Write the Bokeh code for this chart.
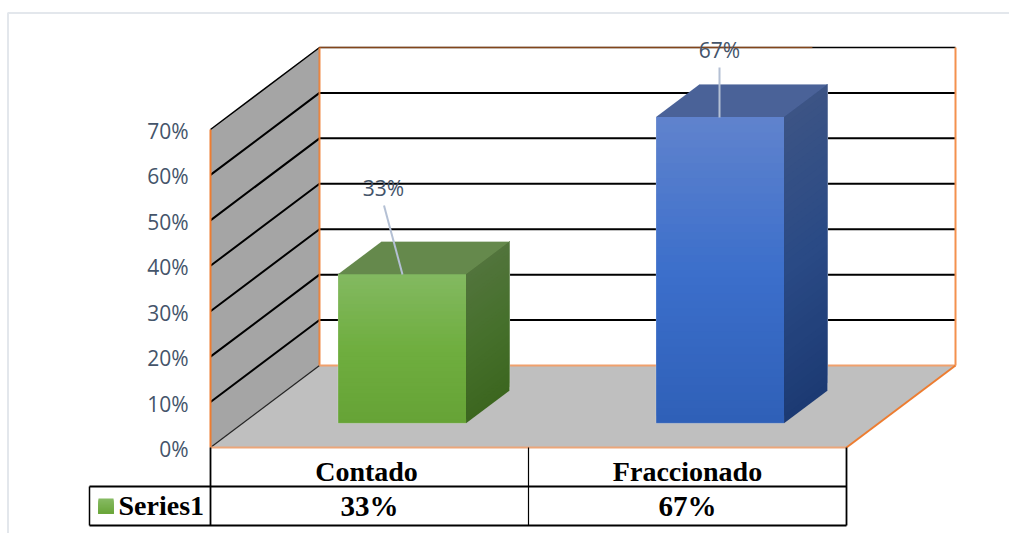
from bokeh.plotting import figure
from bokeh.models import LinearAxis, FixedTicker, PrintfTickFormatter, Range1d, ColumnDataSource
from bokeh.core.properties import value
from bokeh.embed import file_html
from bokeh.resources import INLINE

categories = ["Contado", "Fraccionado"]
values = [32.8, 67.4]
value_labels = ["33%", "67%"]
series_name = "Series1"
ticks = [0, 10, 20, 30, 40, 50, 60, 70]

front_colors = [("#83b961", "#6fae3f", "#66a336"), ("#6083cd", "#3c6fcb", "#2f60b8")]
side_colors = [("#52743c", "#46702c", "#3c661f"), ("#3c5485", "#2a4a85", "#1c3a73")]
top_colors = ["#65894c", "#4a6298"]

W, H = 1009, 533
PX_X0, PX_CAT = 210.0, 318.0      # pixel of category origin and per category
PX_Y0, PX_PCT = 447.0, 4.543      # pixel of 0% and per percent
DX, DY = 109 / PX_CAT, 82 / PX_PCT  # oblique depth vector
NCAT = len(categories)
TOP = ticks[-1]

def X(px): return (px - PX_X0) / PX_CAT
def Y(py): return (PX_Y0 - py) / PX_PCT
def P(cat, val, d=0.0): return cat + d * DX, val + d * DY

p = figure(width=W, height=H, output_backend="svg", toolbar_location=None,
           x_axis_type=None, y_axis_type=None, min_border=0,
           x_range=Range1d(X(0), X(W)), y_range=Range1d(Y(H), Y(0)),
           outline_line_color=None, background_fill_color="white", border_fill_color="white")
p.grid.visible = False
# the value labels sit 1.5px below their gridline level in the reference
p.extra_y_ranges["labels"] = Range1d(Y(H - 1.5), Y(-1.5))

def poly(pts, fill, line=None, lw=1, alpha=1.0):
    p.patch([a for a, _ in pts], [b for _, b in pts], fill_color=fill,
            line_color=line, line_width=lw, line_alpha=alpha)

def seg(pts, color, lw, alpha=1.0):
    p.line([a for a, _ in pts], [b for _, b in pts], line_color=color, line_width=lw, line_alpha=alpha)

def mix2(c0, c1, t):
    a = [int(c0[i:i + 2], 16) for i in (1, 3, 5)]
    b = [int(c1[i:i + 2], 16) for i in (1, 3, 5)]
    return "#%02x%02x%02x" % tuple(round(u + (v - u) * t) for u, v in zip(a, b))

def ramp(stops, t):
    # t: 0 at the bar top, 1 at its bottom; the middle stop is at t = 0.5
    return mix2(stops[0], stops[1], t * 2) if t < 0.5 else mix2(stops[1], stops[2], t * 2 - 1)

# card edge
seg([(X(7.5), Y(533)), (X(7.5), Y(12.5)), (X(1009), Y(12.5))], "#e3e7ec", 2)

# walls
poly([P(0, 0), P(0, 0, 1), P(0, TOP, 1), P(0, TOP)], "#a5a5a5")
poly([P(0, 0), P(NCAT, 0), P(NCAT, 0, 1), P(0, 0, 1)], "#bfbfbf")

# gridlines
for t in ticks[1:]:
    seg([P(0, t), P(0, t, 1), P(NCAT, t, 1)], "#000000", 2 if t != TOP else 1.5)
seg([P(0, 0), P(0, 0, 1)], "#222222", 1.2)

# orange edges
seg([P(0, 0), P(0, TOP)], "#ed7d31", 2)
seg([P(0, 0, 1), P(0, TOP, 1)], "#ed7d31", 2, 0.9)
seg([P(NCAT, 0, 1), P(NCAT, TOP, 1)], "#f4914f", 2)
seg([P(0, 0, 1), P(NCAT, 0, 1)], "#f0a06c", 2)
seg([P(0, 0), P(NCAT, 0)], "#eba67a", 2)
seg([P(NCAT, 0), P(NCAT, 0, 1)], "#ed7d31", 2)
seg([P(0, TOP, 1), P(1.55, TOP, 1)], "#ed7d31", 1.5, 0.55)

# bars: gradient bands painted bottom-up, each reaching to the bar top
BAR_L, BAR_R = 0.30, 0.7025
D0, D1 = 0.295, 0.695
STRIPS = 40
for i, v in enumerate(values):
    x0, x1 = i + BAR_L, i + BAR_R
    for k in range(STRIPS):
        v0 = v * k / STRIPS
        t = 1 - (k + 0.5) / STRIPS
        poly([P(x0, v0, D0), P(x1, v0, D0), P(x1, v, D0), P(x0, v, D0)], ramp(front_colors[i], t))
        poly([P(x1, v0, D0), P(x1, v0, D1), P(x1, v, D1), P(x1, v, D0)], ramp(side_colors[i], t))
    poly([P(x0, v, D0), P(x1, v, D0), P(x1, v, D1), P(x0, v, D1)], top_colors[i])
    seg([P(x0, v, D1), P(x1, v, D1), P(x1, 0, D1)], "#ffffff", 1, 0.3)
    seg([P(x0, v, D0), P(x0, 0, D0), P(x1, 0, D0)], "#ffffff", 1, 0.2)

# data labels and leader lines
label_px = [(383, 187), (719, 49)]
leader_end = [(402, 274), (719, 117)]
for (lx, ly), (ex, ey), t in zip(label_px, leader_end, value_labels):
    seg([(X(lx + (0.5 if t == "33%" else 0)), Y(ly + 18)), (X(ex), Y(ey))], "#b4c0d4", 2)
    p.text([X(lx)], [Y(ly)], text=[t], text_font=value("Open Sans"), text_font_size="21px",
           text_color="#44546a", text_align="center", text_baseline="middle")

# data table
ROW1, ROW2 = 486.0, 525.0
for cat_x in range(NCAT + 1):
    seg([(cat_x, Y(PX_Y0)), (cat_x, Y(ROW2))], "#000000", 1.8 if cat_x != 1 else 1.2)
seg([(X(89), Y(ROW1)), (NCAT, Y(ROW1))], "#000000", 1.8)
seg([(X(89), Y(ROW2)), (NCAT, Y(ROW2))], "#000000", 2)
seg([(X(89), Y(ROW1)), (X(89), Y(ROW2))], "#000000", 1.5)

table_font = dict(text_font=value("Liberation Serif"), text_font_style="bold",
                  text_color="#000000", text_baseline="middle")
src = ColumnDataSource(dict(x=[i + 0.5 for i in range(NCAT)], y1=[Y(471)] * NCAT, y2=[Y(505)] * NCAT,
                            cat=categories, val=value_labels, dx=[-3, 0]))
p.text("x", "y1", text="cat", source=src, text_align="center", text_font_size="28px", x_offset="dx", **table_font)
p.text("x", "y2", text="val", source=src, text_align="center", text_font_size="29px", **table_font)
p.text([X(118)], [Y(504.5)], text=[series_name], text_align="left", text_font_size="28px", **table_font)

# legend key
for k in range(15):
    c = mix2("#86ba63", "#6aa63a", k / 14)
    poly([(X(98), Y(498 + k)), (X(113), Y(498 + k)), (X(113), Y(513)), (X(98), Y(513))], c)

# value axis
axis = LinearAxis(fixed_location=X(202), y_range_name="labels", ticker=FixedTicker(ticks=ticks),
                  formatter=PrintfTickFormatter(format="%d%%"),
                  axis_line_color=None, major_tick_line_color=None, minor_tick_line_color=None,
                  major_label_standoff=8, major_label_text_font="Open Sans",
                  major_label_text_font_size="21px", major_label_text_color="#44546a")
p.add_layout(axis, "left")

open("out.html", "w").write(file_html(p, INLINE))
